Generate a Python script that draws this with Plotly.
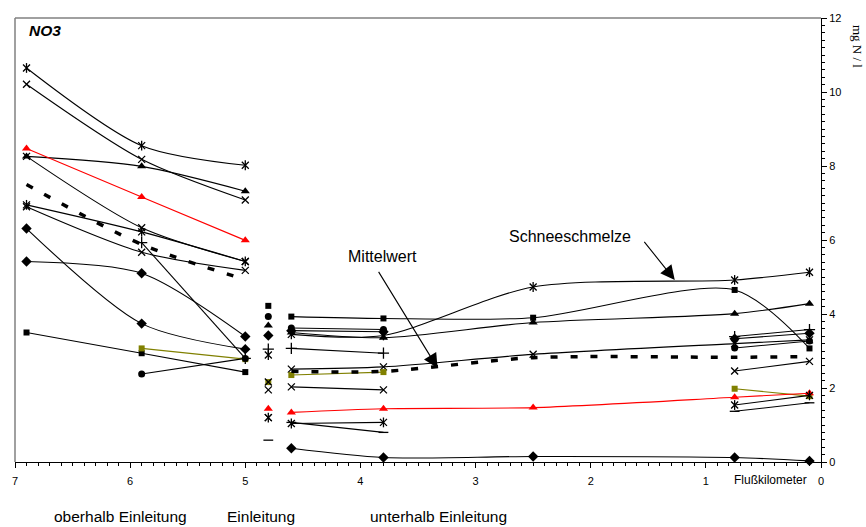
import plotly.graph_objects as go

# River kilometre stations
KM_UP = [6.9, 5.9, 5.0]          # oberhalb Einleitung
KM_IN = 4.8                      # Einleitung
KM_DOWN = [4.6, 3.8, 2.5, 0.75, 0.1]  # unterhalb Einleitung

# NO3 concentrations (mg N / l), upstream stations
up_star_a = [10.65, 8.55, 8.02]
up_x_a = [10.21, 8.18, 7.08]
up_red = [8.47, 7.16, 5.99]
up_tri = [8.26, 7.99, 7.32]
up_x_b = [8.26, 6.33, 5.42]
up_star_b = [6.95, 6.22, 5.42]
up_x_c = [6.90, 5.67, 5.18]
up_cross = [None, 5.93, 2.80]
up_dia_a = [6.31, 3.74, 3.05]
up_dia_b = [5.42, 5.10, 3.39]
up_square = [3.50, 2.94, 2.43]
up_olive = [None, 3.07, 2.78]
up_circle = [None, 2.38, 2.80]
up_mean = [7.50, 5.88, 4.93]

# inlet samples at km 4.8
in_kind = ["square", "circle", "triangle", "diamond", "cross", "star",
           "olive", "x", "x", "red", "star", "x", "dash"]
in_value = [4.22, 3.93, 3.69, 3.42, 3.05, 2.89,
            2.16, 2.16, 1.95, 1.44, 1.20, 1.20, 0.59]

# downstream stations
dn_square = [3.93, 3.88, 3.90, 4.65, 3.07]
dn_circle = [3.62, 3.58, None, 3.08, 3.27]
dn_dia_a = [3.55, 3.52, None, 3.33, 3.48]
dn_tri = [3.50, 3.36, 3.77, 4.01, 4.28]
dn_snow = [3.45, 3.42, 4.73, 4.92, 5.13]
dn_cross = [3.07, 2.94, None, 3.39, 3.58]
dn_x_a = [2.51, 2.57, 2.91, 3.20, 3.30]
dn_olive = [2.35, 2.43, None, 1.98, 1.78]
dn_x_b = [2.03, 1.95, None, 2.46, 2.72]
dn_red = [1.34, 1.44, 1.47, 1.75, 1.86]
dn_star = [1.04, 1.07, None, 1.54, 1.80]
dn_dash = [1.07, 0.80, None, 1.37, 1.60]
dn_dia_b = [0.37, 0.12, 0.15, 0.12, 0.03]
dn_mean = [2.45, 2.45, 2.82, 2.83, 2.85]

BLACK = "#000000"
RED = "#FF0000"
OLIVE = "#808000"
FONT = "Arial, Liberation Sans, sans-serif"

SYMBOLS = {
    "square": ("square", 6, True),
    "circle": ("circle", 7, True),
    "triangle": ("triangle-up", 8, True),
    "diamond": ("diamond", 8, True),
    "x": ("x-thin-open", 7, False),
    "star": ("x-thin-open", 7, False),
    "cross": ("cross-thin-open", 8, False),
    "dash": ("line-ew-open", 7, False),
}

fig = go.Figure()


def marker_for(kind, color):
    sym, size, filled = SYMBOLS[kind]
    if filled:
        return dict(symbol=sym, size=size, color=color, line=dict(width=0))
    return dict(symbol=sym, size=size, color=color,
                line=dict(width=1.3, color=color))


def add_series(xs, ys, kind, color=BLACK, mode="lines+markers"):
    fig.add_trace(go.Scatter(
        x=xs, y=ys, mode=mode,
        line=dict(color=color, width=1.1, shape="spline", smoothing=0.8),
        marker=marker_for(kind, color),
        connectgaps=False, hoverinfo="skip", showlegend=False, cliponaxis=False,
    ))
    if kind == "star":
        # star marker = x plus a vertical bar
        fig.add_trace(go.Scatter(
            x=xs, y=ys, mode="markers",
            marker=dict(symbol="line-ns-open", size=7, color=color,
                        line=dict(width=1.3, color=color)),
            hoverinfo="skip", showlegend=False, cliponaxis=False,
        ))


# upstream lines
add_series(KM_UP, up_x_b, "x")
add_series(KM_UP, up_star_a, "star")
add_series(KM_UP, up_x_a, "x")
add_series(KM_UP, up_tri, "triangle")
add_series(KM_UP, up_red, "triangle", RED)
add_series(KM_UP, up_star_b, "star")
add_series(KM_UP, up_x_c, "x")
add_series(KM_UP, up_cross, "cross")
add_series(KM_UP, up_dia_a, "diamond")
add_series(KM_UP, up_dia_b, "diamond")
add_series(KM_UP, up_square, "square")
add_series(KM_UP, up_olive, "square", OLIVE)
add_series(KM_UP, up_circle, "circle")

# inlet markers
for kind, val in zip(in_kind, in_value):
    if kind == "olive":
        add_series([KM_IN], [val], "square", OLIVE, mode="markers")
    elif kind == "red":
        add_series([KM_IN], [val], "triangle", RED, mode="markers")
    else:
        add_series([KM_IN], [val], kind, mode="markers")

# downstream lines
add_series(KM_DOWN, dn_square, "square")
add_series(KM_DOWN, dn_circle, "circle")
add_series(KM_DOWN, dn_dia_a, "diamond")
add_series(KM_DOWN, dn_tri, "triangle")
add_series(KM_DOWN, dn_snow, "star")
add_series(KM_DOWN, dn_cross, "cross")
add_series(KM_DOWN, dn_x_a, "x")
add_series(KM_DOWN, dn_olive, "square", OLIVE)
add_series(KM_DOWN, dn_x_b, "x")
add_series(KM_DOWN, dn_red, "triangle", RED)
add_series(KM_DOWN, dn_star, "star")
add_series(KM_DOWN, dn_dash, "dash")
add_series(KM_DOWN, dn_dia_b, "diamond")

# mean (Mittelwert) as thick dashed line
for xs, ys in ((KM_UP, up_mean), (KM_DOWN, dn_mean)):
    fig.add_trace(go.Scatter(
        x=xs, y=ys, mode="lines",
        line=dict(color=BLACK, width=3.5, dash="7px,13px",
                  shape="spline", smoothing=0.8),
        hoverinfo="skip", showlegend=False,
    ))

# plot frame: grey top and left edges
fig.add_shape(type="line", xref="paper", yref="paper", x0=0, x1=1, y0=1, y1=1,
              line=dict(color="#808080", width=1.5))
fig.add_shape(type="line", xref="paper", yref="paper", x0=0, x1=0, y0=0, y1=1,
              line=dict(color="#808080", width=1.5))

# arrows
fig.add_annotation(x=1.27, y=4.92, ax=1.545, ay=5.99, axref="x", ayref="y",
                   text="", showarrow=True, arrowhead=2, arrowsize=2.6,
                   arrowwidth=1.1, arrowcolor=BLACK)
fig.add_annotation(x=3.33, y=2.54, ax=3.85, ay=5.18, axref="x", ayref="y",
                   text="", showarrow=True, arrowhead=2, arrowsize=2.6,
                   arrowwidth=1.1, arrowcolor=BLACK)

# labels
fig.add_annotation(x=2.18, y=6.1, text="Schneeschmelze", showarrow=False,
                   font=dict(family=FONT, size=16, color=BLACK))
fig.add_annotation(x=3.81, y=5.55, text="Mittelwert", showarrow=False,
                   font=dict(family=FONT, size=16, color=BLACK))
fig.add_annotation(x=6.895, y=11.65, xanchor="left", yanchor="middle",
                   text="<b><i>NO3</i></b>",
                   showarrow=False, font=dict(family=FONT, size=15.5, color=BLACK))
fig.add_annotation(xref="paper", yref="paper", x=1.0446, y=0.935,
                   xanchor="center", yanchor="middle",
                   text="mg N / l", textangle=90, showarrow=False,
                   font=dict(family="Times New Roman, Liberation Serif, serif",
                             size=13, color=BLACK))
fig.add_annotation(x=0.44, yref="paper", y=-0.04, yanchor="middle",
                   text="Flußkilometer", showarrow=False,
                   font=dict(family=FONT, size=12, color=BLACK))
for xpos, txt in ((6.08, "oberhalb Einleitung"), (4.86, "Einleitung"),
                  (3.32, "unterhalb Einleitung")):
    fig.add_annotation(x=xpos, yref="paper", y=-0.1225, yanchor="middle",
                       text=txt, showarrow=False,
                       font=dict(family=FONT, size=15.5, color=BLACK))

fig.update_layout(
    width=866, height=527,
    margin=dict(l=14, r=45, t=13, b=65),
    paper_bgcolor="white", plot_bgcolor="white",
    font=dict(family=FONT, size=11, color=BLACK),
    xaxis=dict(range=[7, 0], dtick=1, tick0=0, showgrid=False, zeroline=False,
               showline=True, linecolor=BLACK, linewidth=1,
               ticks="outside", ticklen=5, tickcolor=BLACK, ticklabelstandoff=4,
               minor=dict(dtick=0.1, ticks="outside", ticklen=3, tickcolor=BLACK)),
    yaxis=dict(range=[0, 12], dtick=2, side="right", showgrid=False, zeroline=False,
               showline=True, linecolor=BLACK, linewidth=1,
               ticks="outside", ticklen=5, tickcolor=BLACK,
               minor=dict(dtick=0.2, ticks="outside", ticklen=3, tickcolor=BLACK)),
)

fig.write_html("out.html")
